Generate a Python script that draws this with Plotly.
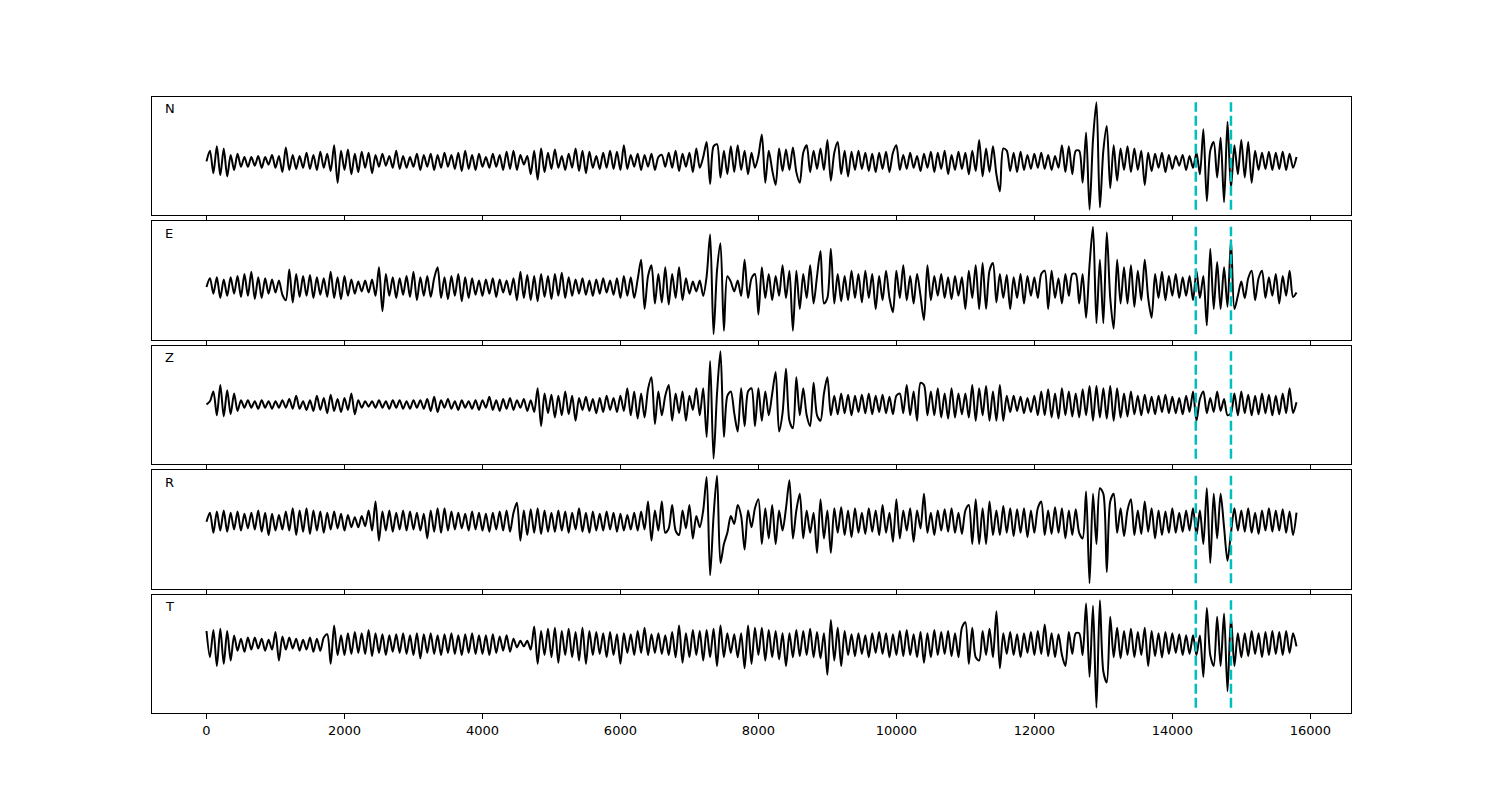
import numpy as np
import plotly.graph_objects as go
from plotly.subplots import make_subplots

# sample spacing of all traces (x units)
dt = 50

# picks shown as dashed cyan lines
picks = [14340, 14850]

components = ["N", "E", "Z", "R", "T"]

trace_n = [
    0, 10, -11, 14, -13, 12, -14, 6, -8, 7, -5, 4, -5, 4, -4, 5, -6, 4, -3, 6,
    -6, 5, -10, 13, -8, 6, -7, 5, -6, 8, -7, 6, -8, 9, -6, 7, -9, 15, -20, 10,
    -8, 11, -12, 7, -10, 9, -6, 8, -11, 6, -5, 7, -4, 5, -6, 10, -7, 5, -6, 4,
    -5, 7, -8, 6, -5, 7, -8, 6, -6, 8, -5, 6, -7, 8, -9, 10, -7, 6, -8, 7,
    -5, 4, -6, 7, -5, 6, -8, 9, -7, 10, -8, 6, -3, 5, -12, 10, -17, 12, -10, 8,
    -7, 11, -6, 5, -8, 7, -6, 12, -9, 10, -11, 9, -6, 5, -7, 8, -6, 10, -7, 9,
    -8, 15, -7, 6, -5, 7, -8, 6, -5, 7, -8, 4, 6, -5, 8, -6, 10, -9, 7, -5,
    8, -10, 12, -6, 4, 18, -21, 14, 16, -15, 10, -12, 14, -10, 15, -8, 10, -12, 8, -6,
    5, 25, -20, 10, -8, -22, 12, -9, 11, -8, 13, -10, -20, 8, 15, -10, 10, -7, 12, -8,
    20, -18, 8, 18, -12, 10, -14, 9, -8, 10, -7, 8, -9, 7, -10, 8, -7, 9, -10, 8,
    15, -8, 6, -7, 8, -6, 5, -9, 7, -6, 9, -10, 8, -7, 10, -12, 6, -8, 9, -7,
    8, -12, 10, -9, 20, -14, 12, -10, 14, -12, -28, 12, 10, -9, 8, -10, 9, -8, 6, -7,
    7, -6, 8, -7, 6, -8, 5, -6, 15, -10, 14, -12, 10, 10, -20, 27, -45, 20, 55, -43,
    10, 33, -25, 15, -18, 12, -8, 14, -10, 12, -8, 10, -22, 8, -9, 7, -6, 8, -10, 6,
    -7, 5, -4, 6, -8, 5, -6, 8, -12, 30, -37, 10, 18, -15, 22, -38, 37, -25, 15, -12,
    20, -15, 18, -20, 10, -8, 8, -7, 9, -8, 8, -7, 9, -8, 7, -6, 4,
]

trace_e = [
    0, 8, -6, 9, -10, 7, -8, 9, -6, 10, -9, 12, -8, 14, -11, 9, -10, 8, -6, 7,
    -5, 6, -7, -12, 16, -14, 12, -9, 10, -8, 11, -10, 9, -7, 8, -9, 14, -10, 9, -11,
    10, -8, 7, -6, 5, -4, 6, -5, 7, -8, 18, -22, 12, -8, 9, -10, 8, -7, 10, -9,
    14, -12, 9, -8, 10, -9, 8, 18, -10, 9, -11, 10, -8, 12, -13, 9, -10, 8, -7, 6,
    -8, 7, -6, 8, -9, 7, -5, 6, -7, 8, -12, 14, -10, 11, -12, 10, -13, 12, -9, 10,
    -11, 12, -8, 13, -10, 9, -8, 7, -6, 8, -7, 6, -8, 7, -6, 8, -5, 6, -7, 8,
    -10, 10, -8, 9, -10, 7, 25, -20, 10, 20, -15, 12, -14, 18, -16, 12, -10, 18, -12, 8,
    -6, 5, -4, 6, -8, 10, 48, -43, 15, 40, -40, 10, 5, -4, 6, -8, 25, -10, 8, 12,
    -25, 18, -10, 12, -12, 10, -8, 20, -10, 15, -40, 15, -20, 12, -10, 20, -15, 10, 33, -15,
    -10, 35, -15, 12, -13, 10, -12, 15, -10, 12, -14, 15, -10, 12, -20, 10, -12, 15, -10, -23,
    15, -10, 20, -12, 10, -15, 12, -8, -30, 20, -12, 10, -8, 12, -10, 9, -11, 10, -8, 9,
    -20, 15, -10, 20, -20, 22, -20, 15, 22, -14, 12, -10, 11, -20, 9, -10, 12, -15, 10, -8,
    9, -10, 12, 15, -20, 15, -10, 8, -15, 12, -8, 12, 12, -15, 12, -28, 20, 55, -33, 25,
    -33, 50, -10, -38, 25, -15, 18, -15, 20, -18, 15, -12, 25, -10, -28, 12, -10, 14, -12, 10,
    -8, 12, -10, 9, -8, 10, -12, 15, -10, 10, -35, 35, -20, 23, -20, 18, -18, 43, -20, -8,
    5, -10, 8, 15, -12, 8, 15, -10, 9, -8, 12, -15, 10, -8, 15, -9, -5,
]

trace_z = [
    0, 3, 12, -10, 18, -11, 13, -9, 10, -6, 4, -3, 4, -3, 3, -4, 4, -3, 3, -4,
    3, -3, 4, -3, 5, -4, 8, -4, 3, -5, 4, -6, 8, -5, 6, -8, 9, -6, 5, -7,
    6, -5, 10, -9, 4, -3, 3, -2, 3, -3, 4, -3, 3, -4, 4, -3, 4, -4, 3, -4,
    4, -3, 4, -4, 5, -6, 7, -7, 4, -3, 5, -4, 3, -5, 4, -3, 3, -4, 4, -5,
    4, -3, 7, -5, 4, -6, 5, -4, 6, -5, 4, -3, 5, -6, 4, -7, 15, -20, 10, -8,
    9, -12, 8, -10, 12, -9, 8, -15, 6, -5, 7, -6, 5, -8, 6, -7, 8, -5, 6, -7,
    8, -6, 15, -10, 12, -13, 10, -12, 14, 25, -18, 12, -10, 8, 18, -15, 10, -8, 12, -15,
    8, -5, 15, -10, 15, -30, 40, -50, 10, 49, -30, 8, 12, -8, -25, 15, -20, 12, 15, -20,
    15, -15, 12, -10, 10, 30, -25, -8, 33, -15, -22, 25, -10, 15, -10, -20, 20, -10, -15, 10,
    25, -10, 8, -9, 10, -8, 9, -10, 8, -7, 9, -8, 10, -9, 8, -7, 9, -8, 7, -9,
    8, 10, -8, 18, -10, 12, -15, 20, 18, -10, 12, -10, 15, -12, 10, -13, 15, -12, 10, -9,
    10, -12, 18, -15, 15, -10, 17, -15, 12, -15, 18, -15, 8, -7, 8, -6, 7, -8, 6, -7,
    8, -10, 12, -10, 14, -12, 10, -13, 15, -10, 12, -11, 10, -12, 14, -10, 17, -15, 17, -12,
    15, -13, 17, -15, 15, -12, 10, -11, 12, -9, 8, -10, 9, -8, 7, -9, 8, -7, 9, -8,
    7, -8, 6, -9, 8, -7, 12, -15, 5, 12, -8, 6, -7, 12, -6, 5, -10, -8, 10, -10,
    12, -8, 9, -10, 8, -9, 10, -8, 9, -10, 8, -9, 10, -8, 15, -8, 2,
]

trace_r = [
    0, 8, -10, 9, -8, 10, -9, 8, -7, 9, -8, 7, -6, 8, -7, 10, -9, 8, -12, 7,
    -8, 6, -7, 9, -8, 12, -12, 10, -9, 12, -11, 10, -8, 9, -10, 8, -7, 9, -6, 7,
    -8, 6, -5, 4, -5, 5, -4, 10, -8, 18, -17, 9, -8, 10, -9, 8, -7, 10, -8, 9,
    -7, 8, -8, 7, -15, 10, -9, 12, -10, 12, -8, 9, -7, 8, -6, 7, -8, 9, -7, 8,
    -8, 7, -9, 8, -7, 9, -8, 10, -9, 8, 17, -17, 10, -12, 11, -10, 12, -11, 10, -9,
    8, -9, 10, -8, 9, -10, 8, -7, 12, -9, 8, -10, 9, -8, 7, -8, 9, -7, 8, -9,
    7, -8, 6, -7, 8, -8, 9, -7, 18, -17, 10, -8, 18, -10, -6, 15, -8, -12, 10, -6,
    15, -15, 5, -5, 10, 40, -48, 5, 41, -37, -20, -10, 5, -2, 15, 5, -25, 10, -5, 12,
    20, -20, 12, -15, 15, -20, 10, -8, 12, 37, -15, 10, 25, -15, 10, -10, 8, -28, 20, -15,
    10, -28, 12, -10, 13, -12, 10, -14, 12, -10, 8, -11, 12, -9, 10, -12, 15, -10, 8, -18,
    20, -15, 10, -8, 12, -18, 10, -6, 25, -10, 8, -12, 10, -8, 11, -9, 12, -10, 8, -11,
    10, 15, -20, 20, -20, 12, -20, 18, -12, 10, -12, 14, -10, 12, -13, 11, -10, 12, -14, 10,
    -10, 12, 18, -12, 10, -11, 13, -10, 12, -15, 10, -12, 11, -10, -15, 27, -55, 25, -20, 30,
    25, -45, 18, 25, -10, 12, -13, 10, 20, -12, 10, -11, 18, -9, 12, -15, 10, -12, 9, -10,
    12, -10, 8, -9, 10, -8, 12, -12, 10, -20, 30, -37, 25, -15, 25, -5, -35, -10, 12, -8,
    10, -9, 12, -10, 8, -11, 10, -8, 12, -9, 10, -8, 11, -10, 9, -12, 8,
]

trace_t = [
    12, -12, 13, -20, 14, -18, 12, -15, 8, -6, 5, -7, 6, -5, 6, -4, 5, -6, 4, -5,
    11, -15, 7, -5, 6, -4, 5, -6, 4, -5, 6, -7, 5, -6, 6, 9, -18, 17, -10, 8,
    -10, 10, -9, 11, -8, 10, -9, 13, -11, 10, -8, 9, -10, 8, -7, 9, -8, 10, -9, 8,
    -10, 10, -13, 9, -8, 10, -9, 8, -10, 9, -8, 10, -9, 8, -10, 9, -8, 10, -9, 8,
    -9, 8, -10, 9, -8, 7, -6, 8, -7, 5, -3, 3, -2, 3, -5, 16, -18, 12, -10, 14,
    -12, 15, -17, 12, -10, 14, -12, 11, -15, 15, -18, 12, -10, 11, -9, 10, -12, 11, -10, 9,
    -18, 10, -8, 9, -10, 12, -8, 15, -10, 9, -8, 10, -9, 8, -10, 11, -12, 17, -17, 10,
    -12, 13, -10, 12, -15, 13, -12, 14, -20, 17, -12, 10, -8, 9, -12, 10, -22, 17, -18, 15,
    -10, 15, -15, 13, -12, 12, -14, 10, -20, 10, -12, 13, -11, 12, -10, 14, -12, 11, -13, 10,
    -28, 22, -15, 15, -20, 12, -10, 9, -11, 10, -9, 8, -12, 10, -8, 11, -9, 10, -12, 9,
    -10, 12, -11, 13, -10, 9, -12, 11, -17, 10, -12, 13, -10, 11, -9, 12, -11, 10, -12, 15,
    20, -18, 15, -12, -15, 12, -10, 14, -12, 30, -22, 10, -9, 11, -10, 9, -12, 10, -8, 11,
    -10, 12, -9, 18, -11, 10, -12, 9, -10, -20, 11, -9, 10, 10, -10, 37, -30, 35, -58, 40,
    -25, -35, 25, -12, 15, -13, 12, -10, 14, -12, 11, -10, 15, -20, 12, -11, 10, -12, 11, -9,
    10, -8, 9, -10, 8, -9, 8, -10, 8, -30, 33, -10, -20, 25, -20, 28, -43, 25, -20, 10,
    -12, 10, -11, 12, -9, 10, -12, 11, -10, 12, -9, 11, -10, 12, -8, 10, -2,
]

traces = [trace_n, trace_e, trace_z, trace_r, trace_t]

fig = make_subplots(rows=5, cols=1, shared_xaxes=False, vertical_spacing=0.0105)

for i, (name, vals) in enumerate(zip(components, traces)):
    row = i + 1
    vals = np.array(vals, dtype=float)
    t = np.arange(len(vals)) * dt
    fig.add_trace(go.Scatter(
        x=t, y=vals,
        mode='lines',
        line=dict(color='black', width=2, shape='spline', smoothing=0.8),
        showlegend=False,
        hoverinfo='skip'
    ), row=row, col=1)

    lo, hi = vals.min(), vals.max()
    pad = 0.05 * (hi - lo)

    # pick markers run from trace min to max, like vlines in matplotlib
    for p in picks:
        fig.add_trace(go.Scatter(
            x=[p, p], y=[lo, hi],
            mode='lines',
            line=dict(color='#00BFBF', width=2.5, dash='10px,4px'),
            showlegend=False,
            hoverinfo='skip'
        ), row=row, col=1)

    fig.update_yaxes(
        range=[lo - pad, hi + pad], showticklabels=False, ticks='',
        showgrid=False, zeroline=False, showline=True, linecolor='black',
        linewidth=1, mirror=True, row=row, col=1
    )
    fig.update_xaxes(
        range=[-790, 16590], tickvals=list(range(0, 16001, 2000)),
        tickformat='d',
        ticks='outside', ticklen=5, tickcolor='black', tickwidth=1,
        showticklabels=(row == 5), showgrid=False, zeroline=False,
        showline=True, linecolor='black', linewidth=1, mirror=True,
        row=row, col=1
    )

    axis_id = '' if row == 1 else str(row)
    fig.add_annotation(
        text=name, xref=f'x{axis_id} domain', yref=f'y{axis_id} domain',
        x=0.009, y=0.9, xanchor='left', yanchor='middle',
        showarrow=False, font=dict(size=13, color='black')
    )

fig.update_layout(
    width=1500, height=800,
    margin=dict(l=144, r=157, t=89, b=95),
    plot_bgcolor='white', paper_bgcolor='white',
    font=dict(family='DejaVu Sans', size=13, color='black'),
)

fig.write_html("out.html")
